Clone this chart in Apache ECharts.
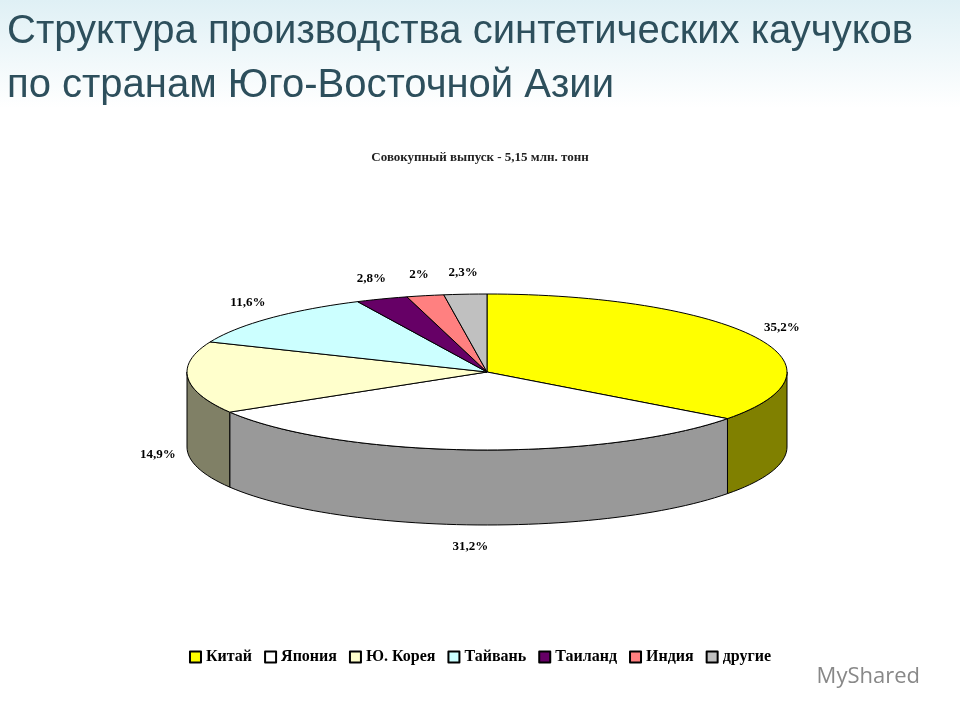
<!DOCTYPE html>
<html lang="ru">
<head>
<meta charset="UTF-8">
<title>Структура производства синтетических каучуков</title>
<script src="https://cdn.jsdelivr.net/npm/echarts@6/dist/echarts.min.js"></script>
<style>
  html, body, #chart { width: 100%; height: 100%; margin: 0; padding: 0; }
  body { overflow: hidden; background: #fff; }
</style>
</head>
<body>
<div id="chart"></div>
<script>
// данные
const countries = ['Китай', 'Япония', 'Ю. Корея', 'Тайвань', 'Таиланд', 'Индия', 'другие'];
const shares = [35.2, 31.2, 14.9, 11.6, 2.8, 2.0, 2.3];
const labels = ['35,2%', '31,2%', '14,9%', '11,6%', '2,8%', '2%', '2,3%'];
const topColors = ['#ffff00', '#ffffff', '#ffffcc', '#ccffff', '#660066', '#ff8080', '#c0c0c0'];
const sideColors = ['#808000', '#999999', '#808066', '#66807f', '#330033', '#804040', '#606060'];

// геометрия "объёмного" эллипса
const cx = 487, cy = 372, rx = 300, ry = 78, depth = 75;
const total = shares.reduce((a, b) => a + b, 0);
const starts = [];
let acc = 0;
shares.forEach(v => { starts.push(acc / total * 360); acc += v; });

function pt(deg, dy) {
  const t = deg * Math.PI / 180;
  return [cx + rx * Math.sin(t), cy - ry * Math.cos(t) + (dy || 0)];
}
function arc(a0, a1, dy) {
  const pts = [];
  const n = Math.max(2, Math.ceil((a1 - a0) / 2));
  for (let i = 0; i <= n; i++) pts.push(pt(a0 + (a1 - a0) * i / n, dy));
  return pts;
}

function renderItem(params, api) {
  const i = params.dataIndex;
  const a0 = starts[i], a1 = a0 + api.value(0) / total * 360;
  const children = [];
  // боковая стенка (видимая часть 90..270)
  const s0 = Math.max(a0, 90), s1 = Math.min(a1, 270);
  if (s1 > s0) {
    const topEdge = arc(s0, s1, 0);
    const botEdge = arc(s0, s1, depth).reverse();
    children.push({
      type: 'polygon',
      shape: { points: topEdge.concat(botEdge) },
      style: { fill: sideColors[i], stroke: '#000', lineWidth: 1 }
    });
  }
  // верхняя грань
  children.push({
    type: 'polygon',
    shape: { points: [[cx, cy]].concat(arc(a0, a1, 0)) },
    style: { fill: topColors[i], stroke: '#000', lineWidth: 1 }
  });
  // подпись
  const m = (a0 + a1) / 2;
  const t = m * Math.PI / 180;
  let lx = cx + (rx + 30) * Math.sin(t);
  let ly = cy - (ry + 22) * Math.cos(t);
  if (m > 90 && m < 270) ly += depth;
  children.push({
    type: 'text',
    style: {
      x: lx, y: ly, text: labels[i], align: 'center', verticalAlign: 'middle',
      font: 'bold 13px "Liberation Serif", serif', fill: '#000'
    }
  });
  return { type: 'group', children: children };
}

const chart = echarts.init(document.getElementById('chart'));
chart.setOption({
  backgroundColor: {
    type: 'linear', x: 0, y: 0, x2: 0, y2: 1,
    colorStops: [{ offset: 0, color: '#dff0f5' }, { offset: 0.15, color: '#ffffff' }, { offset: 1, color: '#ffffff' }]
  },
  animation: false,
  title: [{
    text: 'Структура производства синтетических каучуков\nпо странам Юго-Восточной Азии',
    left: 2, top: 0,
    textStyle: { fontFamily: 'Liberation Sans', fontWeight: 'normal', fontSize: 40, lineHeight: 54, color: '#2d4f5c' }
  }, {
    text: 'Совокупный выпуск - 5,15 млн. тонн',
    left: 'center', top: 146,
    textStyle: { fontFamily: 'Liberation Serif', fontWeight: 'bold', fontSize: 13, color: '#222' }
  }],
  legend: {
    bottom: 50, left: 'center',
    icon: 'rect', itemWidth: 11, itemHeight: 11, itemGap: 12,
    textStyle: { fontFamily: 'Liberation Serif', fontWeight: 'bold', fontSize: 16, color: '#000' },
    data: countries
  },
  graphic: [{
    type: 'text', right: 40, bottom: 32,
    style: { text: 'MyShared', font: '22px "Open Sans", sans-serif', fill: '#888' }
  }],
  series: [{
    type: 'custom',
    coordinateSystem: 'none',
    renderItem: renderItem,
    data: shares.map(v => [v])
  }, {
    // для легенды
    type: 'pie', radius: [0, 0], silent: true,
    label: { show: false }, labelLine: { show: false },
    itemStyle: { borderColor: '#000', borderWidth: 1 },
    data: countries.map((n, i) => ({ name: n, value: shares[i], itemStyle: { color: topColors[i] } }))
  }]
});
window.addEventListener('resize', function () { chart.resize(); });
</script>
</body>
</html>
